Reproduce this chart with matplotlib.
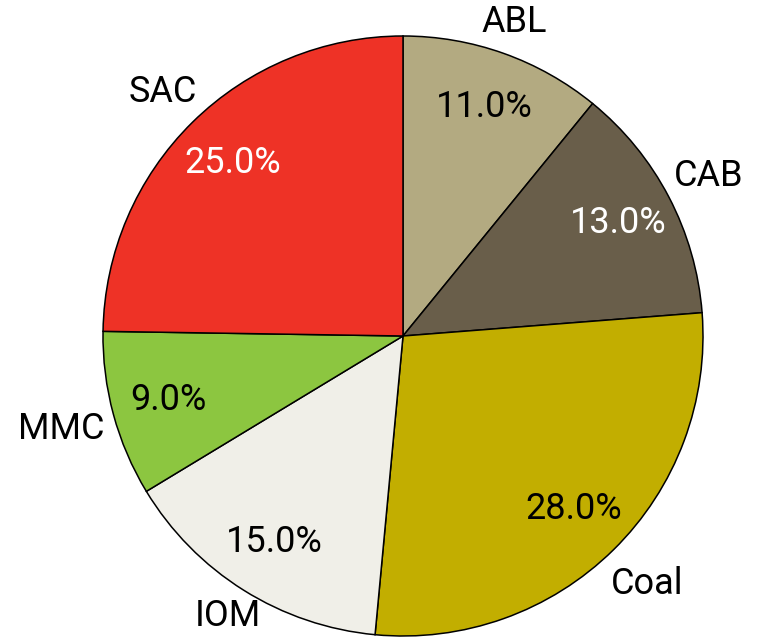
import numpy as np
import matplotlib.pyplot as plt

# Доли по категориям
labels = ['ABL', 'CAB', 'Coal', 'IOM', 'MMC', 'SAC']
shares = [11.0, 13.0, 28.0, 15.0, 9.0, 25.0]
colors = ['#b3aa81', '#695e4a', '#c2ae00', '#f0efe8', '#8cc640', '#ee3226']
pct_colors = ['black', 'white', 'black', 'black', 'black', 'white']
# Расстояние подписи от центра (в радиусах)
label_dist = [1.11, 1.15, 1.16, 1.10, 1.18, 1.14]

plt.rcParams['font.family'] = ['Roboto', 'DejaVu Sans']

total = sum(shares)

fig = plt.figure(figsize=(7.57, 6.37), dpi=100)
ax = fig.add_axes([0, 0, 1, 1])

wedges, texts, autotexts = ax.pie(
    shares, labels=labels, colors=colors, startangle=90, counterclock=False,
    autopct=lambda p: f'{p * total / 100:.1f}%', pctdistance=0.81,
    wedgeprops=dict(edgecolor='black', linewidth=1.1),
    textprops=dict(fontsize=26),
)

for w, t, d in zip(wedges, texts, label_dist):
    ang = np.deg2rad((w.theta1 + w.theta2) / 2)
    t.set_position((d * np.cos(ang), d * np.sin(ang)))
    t.set_horizontalalignment('center')
for t, c in zip(autotexts, pct_colors):
    t.set_color(c)

# Радиус 1 = 300 px, центр круга в (403, 336)
ax.set_xlim(-403 / 300, (757 - 403) / 300)
ax.set_ylim(-(637 - 336) / 300, 336 / 300)
ax.set_aspect('equal', adjustable='datalim')
ax.axis('off')

plt.savefig('out.png', dpi=100)
